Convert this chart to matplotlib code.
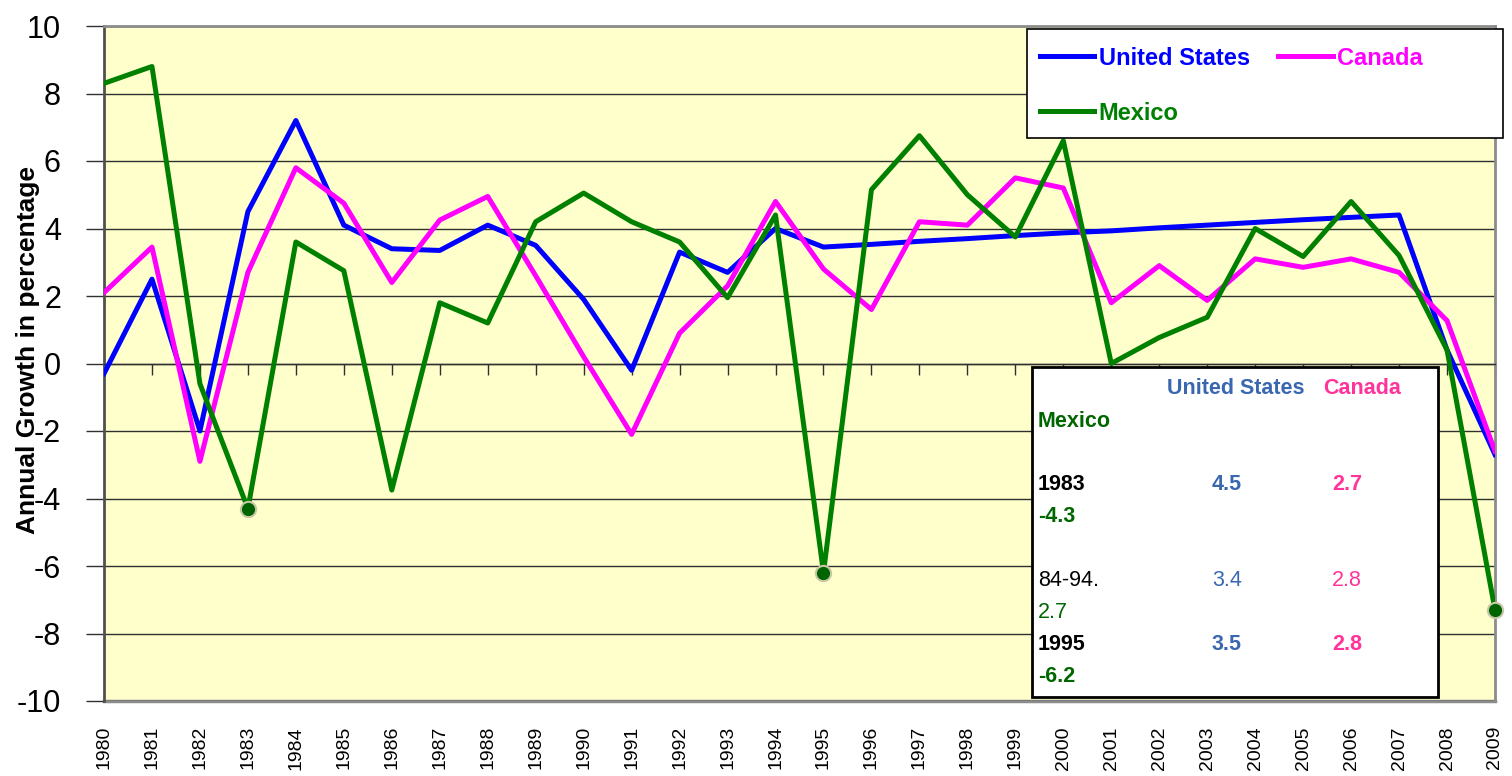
import matplotlib.pyplot as plt
from matplotlib.patches import Rectangle

plt.rcParams["font.family"] = ["Liberation Sans", "DejaVu Sans"]
plt.rcParams["axes.unicode_minus"] = False

years = list(range(1980, 2010))
us = [-0.3, 2.5, -2.0, 4.5, 7.2, 4.1, 3.4, 3.35, 4.1, 3.5, 1.9, -0.2, 3.3, 2.7, 4.0,
      3.45, 3.53, 3.62, 3.7, 3.79, 3.87, 3.93, 4.02, 4.1, 4.18, 4.26, 4.33, 4.4, 0.4, -2.7]
canada = [2.1, 3.45, -2.9, 2.7, 5.8, 4.75, 2.4, 4.25, 4.95, 2.6, 0.2, -2.1, 0.9, 2.3, 4.8,
          2.8, 1.6, 4.2, 4.1, 5.5, 5.2, 1.8, 2.9, 1.87, 3.1, 2.85, 3.1, 2.7, 1.27, -2.6]
mexico = [8.3, 8.8, -0.6, -4.3, 3.6, 2.75, -3.75, 1.8, 1.2, 4.2, 5.05, 4.2, 3.6, 1.95, 4.4,
          -6.2, 5.15, 6.75, 5.0, 3.75, 6.6, 0.0, 0.77, 1.37, 4.0, 3.17, 4.8, 3.2, 0.4, -7.3]
highlight_years = [1983, 1995, 2009]

# summary box
periods = ["1983", "84-94.", "1995"]
period_bold = [True, False, True]
us_summary = ["4.5", "3.4", "3.5"]
ca_summary = ["2.7", "2.8", "2.8"]
mx_summary = ["-4.3", "2.7", "-6.2"]

BLUE, MAGENTA, GREEN = "#0000FF", "#FF00FF", "#008000"
T_BLUE, T_PINK, T_GREEN = "#3A68B0", "#FF3399", "#006600"
W, H = 1512, 776


def fx(px):
    return px / W


def fy(py):
    return 1 - py / H


fig = plt.figure(figsize=(15.12, 7.76), dpi=100)
ax = fig.add_axes([fx(104), fy(701), fx(1495) - fx(104), fy(26) - fy(701)])
ax.set_facecolor("#FFFFCC")

l_us, = ax.plot(years, us, color=BLUE, lw=3.6, zorder=3)
l_ca, = ax.plot(years, canada, color=MAGENTA, lw=3.6, zorder=3)
l_mx, = ax.plot(years, mexico, color=GREEN, lw=3.6, zorder=4)
hl_vals = [mexico[years.index(y)] for y in highlight_years]
ax.plot(highlight_years, hl_vals, "o", ms=11, mfc="#006400", mec="#C8C8A8", mew=1.5,
        zorder=5, clip_on=False)

ax.set_xlim(1980, 2009)
ax.set_ylim(-10, 10)
ax.set_yticks(range(-10, 11, 2))
ax.yaxis.grid(True, color="#303030", lw=1.0)
ax.set_axisbelow(True)
ax.tick_params(axis="y", length=13, width=1, color="#303030", labelsize=22, pad=18)

# x axis crosses at zero, labels at the bottom
ax.spines["bottom"].set_position(("data", 0))
ax.spines["bottom"].set_color("#303030")
ax.spines["bottom"].set_linewidth(1.0)
ax.set_xticks(years)
ax.tick_params(axis="x", direction="out", length=8, width=1, color="#303030",
               labelbottom=False)
for s in ["top", "right"]:
    ax.spines[s].set_color("#8C8C8C")
    ax.spines[s].set_linewidth(2)
ax.spines["left"].set_color("#505050")
ax.spines["left"].set_linewidth(2)

sec = ax.secondary_xaxis("bottom")
sec.set_xticks(years)
sec.set_xticklabels([str(y) for y in years], rotation=90, fontsize=14)
sec.tick_params(length=0, pad=18)
sec.spines["bottom"].set_color("#8C8C8C")
sec.spines["bottom"].set_linewidth(2.5)

ax.set_ylabel("Annual Growth in percentage", fontsize=19, fontweight="bold")
ax.yaxis.set_label_coords(-0.046, 0.52)

# legend
fig.patches.append(Rectangle((fx(1027), fy(138)), fx(1503) - fx(1027), fy(29) - fy(138),
                             transform=fig.transFigure, facecolor="white",
                             edgecolor="black", lw=1.2, zorder=1))
leg = fig.legend([l_us, l_mx, l_ca], ["United States", "Mexico", "Canada"], ncol=2,
                 loc="upper left", bbox_to_anchor=(fx(1022), fy(29)), frameon=False,
                 prop={"size": 17, "weight": "bold"}, handlelength=2.3,
                 handletextpad=0.2, labelspacing=1.35, columnspacing=1.2,
                 borderaxespad=0, borderpad=0.75)
for txt, c in zip(leg.get_texts(), [BLUE, GREEN, MAGENTA]):
    txt.set_color(c)

# summary table
fig.patches.append(Rectangle((fx(1032), fy(697)), fx(1438) - fx(1032), fy(367) - fy(697),
                             transform=fig.transFigure, facecolor="white",
                             edgecolor="black", lw=2, zorder=1))
fs = 15.5
fig.text(fx(1167), fy(389), "United States", color=T_BLUE, fontsize=fs,
         fontweight="bold", va="center")
fig.text(fx(1323), fy(389), "Canada", color=T_PINK, fontsize=fs,
         fontweight="bold", va="center")
fig.text(fx(1038), fy(422), "Mexico", color=T_GREEN, fontsize=fs,
         fontweight="bold", va="center")
row_y = [485, 580, 645]
for i, p in enumerate(periods):
    w = "bold" if period_bold[i] else "normal"
    y = row_y[i]
    fig.text(fx(1038), fy(y), p, color="black", fontsize=fs, fontweight=w, va="center")
    fig.text(fx(1212), fy(y), us_summary[i], color=T_BLUE, fontsize=fs, fontweight=w,
             va="center")
    fig.text(fx(1332), fy(y), ca_summary[i], color=T_PINK, fontsize=fs, fontweight=w,
             va="center")
    fig.text(fx(1038), fy(y + 32), mx_summary[i], color=T_GREEN, fontsize=fs,
             fontweight=w, va="center")

fig.savefig("out.png", dpi=100)
